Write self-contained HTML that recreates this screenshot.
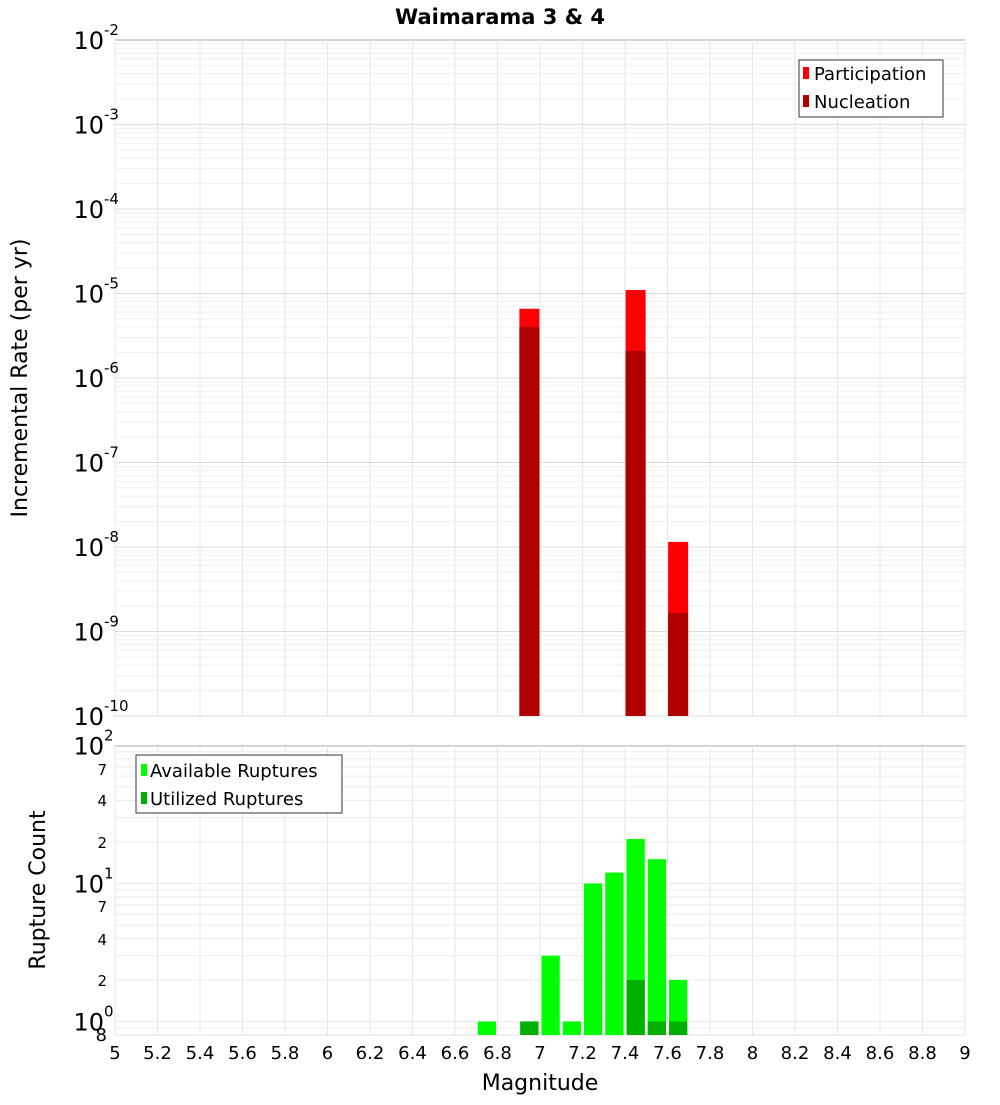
<!DOCTYPE html>
<html><head><meta charset="utf-8"><style>
body{margin:0;background:#fff;font-family:"Liberation Sans","DejaVu Sans",sans-serif}
svg text{font-family:"DejaVu Sans","Liberation Sans",sans-serif}
</style></head><body>
<svg id="c" width="1000" height="1100" xmlns="http://www.w3.org/2000/svg">
<text x="500" y="24" text-anchor="middle" font-size="21" font-weight="bold">Waimarama 3 &amp; 4</text>
<rect x="115" y="40" width="850" height="676" fill="#fff" stroke="#aaa"/>
<rect x="115" y="746" width="850" height="289" fill="#fff" stroke="#aaa"/>
<g id="grid"></g><g id="bars"></g><g id="axes"></g>
<text transform="translate(27,378) rotate(-90)" text-anchor="middle" font-size="22">Incremental Rate (per yr)</text>
<text transform="translate(45,890) rotate(-90)" text-anchor="middle" font-size="22">Rupture Count</text>
<text x="540" y="1090" text-anchor="middle" font-size="22">Magnitude</text>
<g>
<rect x="799" y="60" width="144" height="57" fill="#fff" stroke="#333"/>
<rect x="803" y="67" width="6" height="12" fill="#ff0000"/>
<text x="814" y="80" font-size="18">Participation</text>
<rect x="803" y="95" width="6" height="12" fill="#b00000"/>
<text x="814" y="108" font-size="18">Nucleation</text>
</g>
<g>
<rect x="136" y="755" width="206" height="58" fill="#fff" stroke="#333"/>
<rect x="141" y="764" width="6" height="12" fill="#00ff00"/>
<text x="150" y="777" font-size="18">Available Ruptures</text>
<rect x="141" y="792" width="6" height="12" fill="#00b000"/>
<text x="150" y="805" font-size="18">Utilized Ruptures</text>
</g>
</svg>
<script>
const NS="http://www.w3.org/2000/svg";
const rateMags=[6.95,7.45,7.65];
const participation=[6.6e-6,1.1e-5,1.15e-8];
const nucleation=[4.0e-6,2.1e-6,1.66e-9];
const countMags=[6.75,6.95,7.05,7.15,7.25,7.35,7.45,7.55,7.65];
const available=[1,1,3,1,10,12,21,15,2];
const utilized=[0,1,0,0,0,0,2,1,1];
const xTicks=[5,5.2,5.4,5.6,5.8,6,6.2,6.4,6.6,6.8,7,7.2,7.4,7.6,7.8,8,8.2,8.4,8.6,8.8,9];
const topExps=[-2,-3,-4,-5,-6,-7,-8,-9,-10];
const botMinor=[[7,769],[4,800],[2,842],[7,906],[4,939],[2,980]];
const X=m=>115+(m-5)*212.5;
const YT=v=>40+(-2-Math.log10(v))*84.5;
const YB=v=>1021.5-Math.log10(v)*138;
function mk(p,t,a){const e=document.createElementNS(NS,t);for(const k in a)e.setAttribute(k,a[k]);p.appendChild(e);return e;}
const g=document.getElementById('grid'),b=document.getElementById('bars'),ax=document.getElementById('axes');
// grids
for(let m=5;m<=9.001;m+=0.2){
 let l=mk(g,'line',{x1:X(m),x2:X(m),y1:40,y2:716,stroke:'#e6e6e6'});
 
 let l2=mk(g,'line',{x1:X(m),x2:X(m),y1:746,y2:1035,stroke:'#e6e6e6'});
 
}
for(let e=-10;e<-2;e++)for(let k=1;k<10;k++){
 const y=YT(k*Math.pow(10,e));
 let l=mk(g,'line',{x1:115,x2:965,y1:y,y2:y,stroke:k==1?'#dcdcdc':'#efefef'});
 
}
for(let e=-1;e<2;e++)for(let k=1;k<10;k++){
 const v=k*Math.pow(10,e);const y=YB(v);if(y>1035||y<746)continue;
 let l=mk(g,'line',{x1:115,x2:965,y1:y,y2:y,stroke:'#ebebeb'});
 
}
// top bars
rateMags.forEach((m,i)=>{
 let r=mk(b,'rect',{x:X(m-0.047),width:X(m+0.047)-X(m-0.047),y:YT(participation[i]),height:716-YT(participation[i]),fill:'#ff0000'});
 
 let r2=mk(b,'rect',{x:X(m-0.047),width:X(m+0.047)-X(m-0.047),y:YT(nucleation[i]),height:716-YT(nucleation[i]),fill:'#b00000'});
 
});
countMags.forEach((m,i)=>{
 let r=mk(b,'rect',{x:X(m-0.043),width:X(m+0.043)-X(m-0.043),y:YB(available[i]),height:1035-YB(available[i]),fill:'#00ff00'});
 
 if(utilized[i]>0){let r2=mk(b,'rect',{x:X(m-0.043),width:X(m+0.043)-X(m-0.043),y:YB(utilized[i]),height:1035-YB(utilized[i]),fill:'#00b000'});
 }
});
// x ticks
xTicks.forEach(m=>{
 let t=mk(ax,'text',{x:X(m),y:1059,'text-anchor':'middle','font-size':18});t.textContent=String(m);
 
});
// top y labels
topExps.forEach(e=>{
 const y=YT(Math.pow(10,e));
 let t=mk(ax,'text',{x:104,y:y+9,'text-anchor':'end','font-size':24});t.textContent='10';
 
 let s=mk(ax,'text',{x:104,y:y-5,'font-size':15});s.textContent=String(e);
 
});
// bottom y labels
[[0,1021.5],[1,883.5],[2,745.5]].forEach(([e,y])=>{
 let t=mk(ax,'text',{x:104,y:y+9,'text-anchor':'end','font-size':24});t.textContent='10';
 
 let s=mk(ax,'text',{x:104,y:y-5,'font-size':15});s.textContent=String(e);
 
});
botMinor.forEach(([v,y])=>{
 let t=mk(ax,'text',{x:107,y:y+6,'text-anchor':'end','font-size':15});t.textContent=String(v);
 
});
let t8=mk(ax,'text',{x:107,y:1041,'text-anchor':'end','font-size':18});t8.textContent='8';

</script>
</body></html>
